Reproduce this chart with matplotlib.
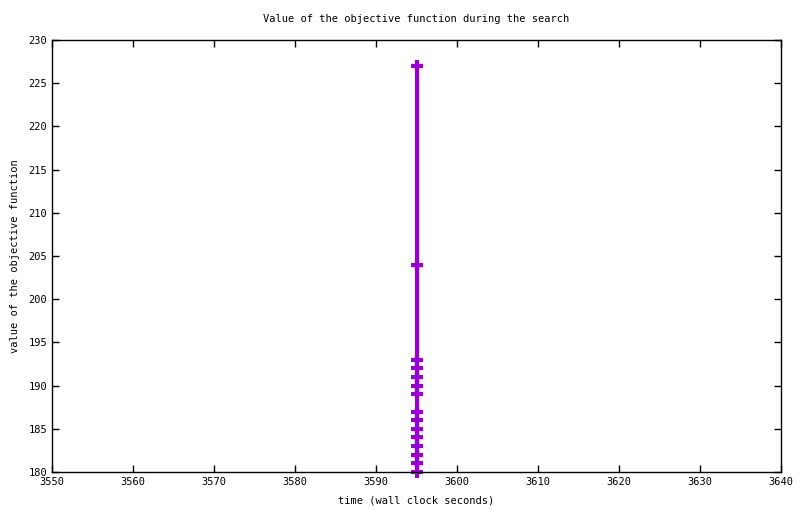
import matplotlib
matplotlib.use("Agg")
import matplotlib.pyplot as plt

times = [3595]*15
values = [227, 204, 193, 192, 191, 190, 189, 187, 186, 185, 184, 183, 182, 181, 180]
xticks = list(range(3550, 3641, 10))
yticks = list(range(180, 231, 5))

plt.rcParams['font.family'] = ['DejaVu Sans Mono']
fig = plt.figure(figsize=(8.0, 5.14), dpi=100)
ax = fig.add_axes([52/800, 1-472/514, (781-52)/800, (472-40)/514])
ax.plot(times, values, color='#9400D3', lw=3, marker='+', ms=8, mew=3,
        clip_on=False, solid_capstyle='butt')
ax.set_xlim(3550, 3640)
ax.set_ylim(180, 230)
ax.set_xticks(xticks)
ax.set_yticks(yticks)
ax.tick_params(direction='in', top=True, right=True, labelsize=7.5, length=5, width=1)
for s in ax.spines.values():
    s.set_linewidth(1)
ax.set_xlabel('time (wall clock seconds)', fontsize=7.5, labelpad=6)
ax.set_ylabel('value of the objective function', fontsize=7.5, labelpad=6)
fig.text(0.52, 1-19/514, 'Value of the objective function during the search', ha='center', va='center', fontsize=7.5)
fig.savefig('out.png', dpi=100)
